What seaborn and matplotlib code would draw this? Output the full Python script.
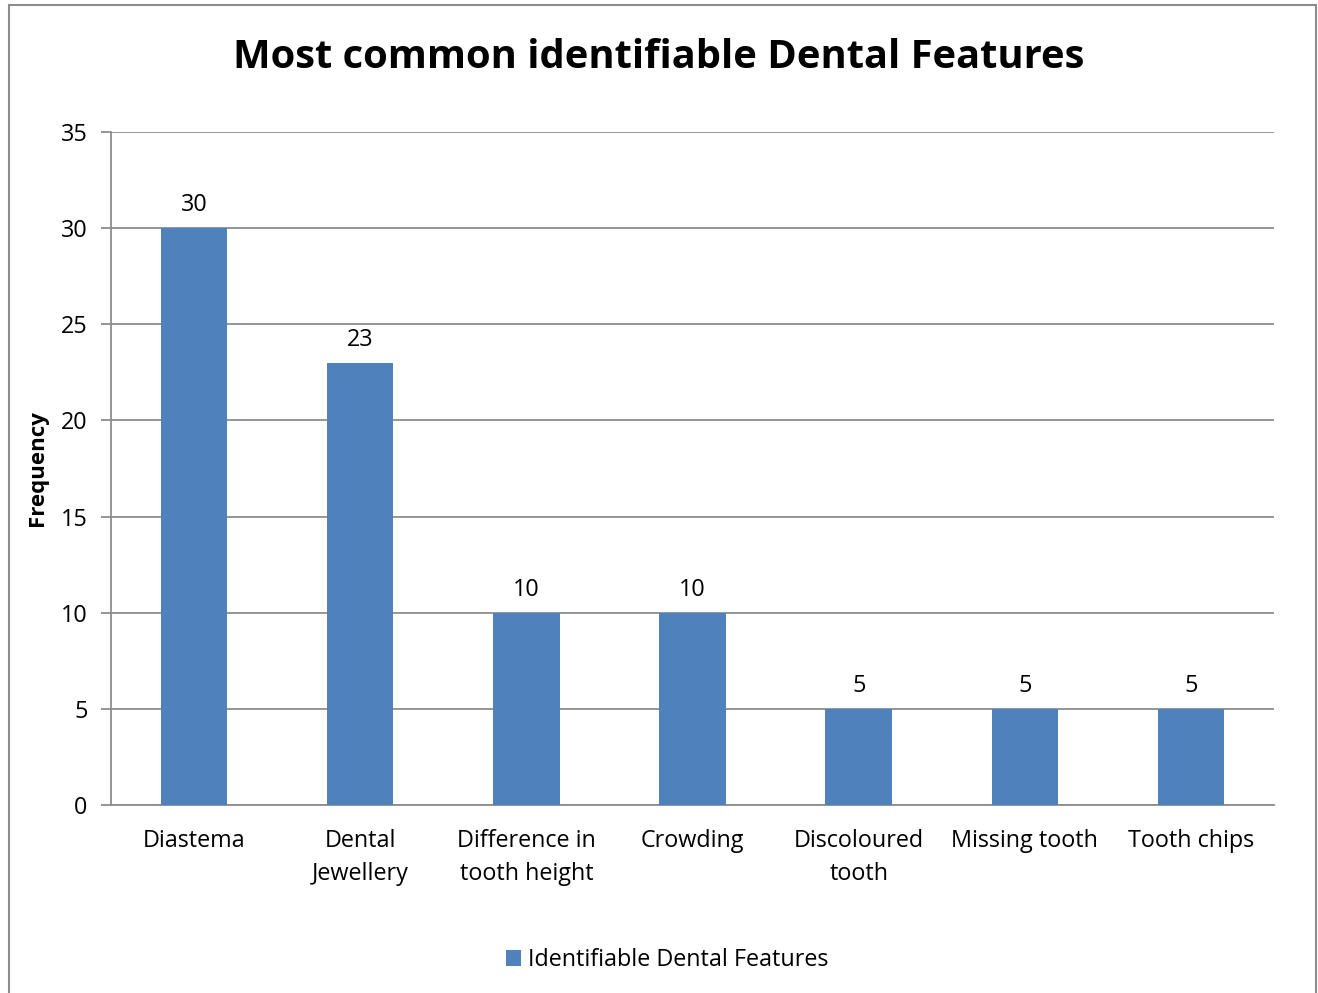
import matplotlib
matplotlib.use("Agg")
import matplotlib.pyplot as plt
from matplotlib.patches import Rectangle
import seaborn as sns
import pandas as pd
import numpy as np

categories = ["Diastema", "Dental\nJewellery", "Difference in\ntooth height", "Crowding",
              "Discoloured\ntooth", "Missing tooth", "Tooth chips"]
frequencies = [30, 23, 10, 10, 5, 5, 5]
series_name = "Identifiable Dental Features"
y_ticks = [0, 5, 10, 15, 20, 25, 30, 35]

sns.set_theme(style="white")
plt.rcParams["font.family"] = ["Open Sans", "DejaVu Sans"]
plt.rcParams["text.color"] = "#000000"
plt.rcParams["axes.labelcolor"] = "#000000"
plt.rcParams["xtick.color"] = "#000000"
plt.rcParams["ytick.color"] = "#000000"

df = pd.DataFrame({"Feature": categories, "Frequency": frequencies})

W, H = 1318, 993
fig = plt.figure(figsize=(W / 100, H / 100), dpi=100)
ax = fig.add_axes([111 / W, 1 - 805 / H, (1274 - 111) / W, (805 - 132) / H])

bar_color = "#4F81BD"
grid_color = "#8C8C8C"
fs = 16.8

sns.barplot(data=df, x="Feature", y="Frequency", color=bar_color, width=0.4,
            saturation=1, label=series_name, ax=ax, zorder=3, linewidth=0)

ax.set_ylim(0, 35)
ax.set_xlim(-0.5, len(categories) - 0.5)
ax.set_yticks(y_ticks)
ax.set_yticklabels([str(t) for t in y_ticks], fontsize=fs)
ax.yaxis.grid(True, color=grid_color, linewidth=1.3, zorder=0)
ax.set_axisbelow(True)

# category labels at centres, tick marks at category boundaries
ax.set_xticks(range(len(categories)))
ax.set_xticklabels(categories, fontsize=fs, linespacing=1.5)
ax.tick_params(axis="x", which="major", length=0, pad=17)
ax.set_xticks(np.arange(-0.5, len(categories), 1.0), minor=True)
ax.tick_params(axis="x", which="minor", length=7, width=1.3, color=grid_color, direction="out")
ax.tick_params(axis="y", which="major", length=7, width=1.3, color=grid_color,
               direction="out", pad=10, left=True, labelcolor="#000000")

for side in ("top", "right"):
    ax.spines[side].set_visible(False)
for side in ("left", "bottom"):
    ax.spines[side].set_color(grid_color)
    ax.spines[side].set_linewidth(1.3)

ax.set_xlabel("")
ax.set_ylabel("Frequency", fontsize=16, fontweight="bold", labelpad=9)

# value labels above bars
for container in ax.containers:
    ax.bar_label(container, labels=[str(v) for v in frequencies], padding=8,
                 fontsize=fs, color="#000000")

fig.suptitle("Most common identifiable Dental Features", fontsize=28.7, fontweight="bold",
             x=0.5, y=1 - 58 / H, va="center", color="#000000")

ax.legend(loc="center", bbox_to_anchor=(0.506, 1 - 960 / H), bbox_transform=fig.transFigure,
          frameon=False, fontsize=fs, handlelength=0.65, handleheight=0.65, handletextpad=0.3)

fig.patches.append(Rectangle((9 / W, -0.02), (1316 - 9) / W, 1.02 - 5 / H,
                             transform=fig.transFigure, fill=False,
                             edgecolor="#8C8C8C", linewidth=1.5))

fig.savefig("out.png", dpi=100)
